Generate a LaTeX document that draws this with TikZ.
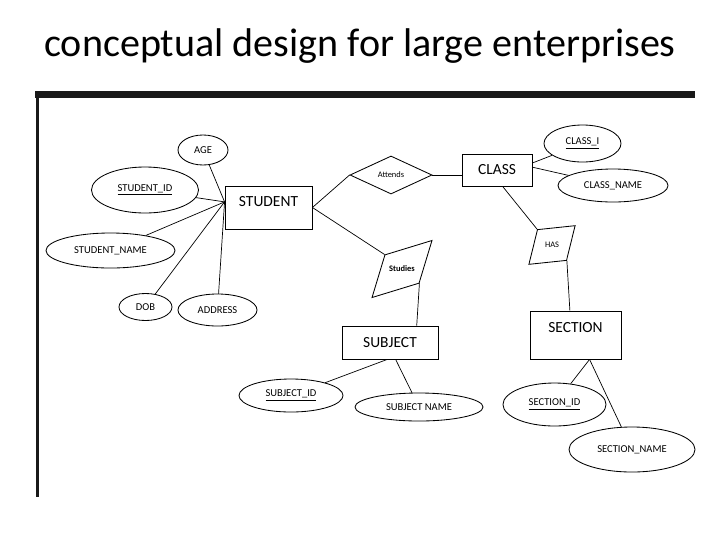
\documentclass[tikz,border=0pt]{standalone}
\usepackage{fontspec}
\setmainfont{Carlito}
\usepackage{tikz}
\usetikzlibrary{shapes.geometric, positioning, calc}

\begin{document}
\begin{tikzpicture}[
  x={(0.025cm,0)}, y={(0,-0.025cm)},
  line width=0.6pt,
  entity/.style={rectangle, draw, inner sep=0pt,
                 font=\fontsize{11}{13}\selectfont},
  attrib/.style={ellipse, draw, inner sep=0pt,
                 font=\fontsize{7.5}{9}\selectfont},
  relbox/.style={trapezium, draw, inner sep=1pt, trapezium stretches=true},
  reltext/.style={font=\fontsize{6}{7}\selectfont},
  link/.style={draw, line width=0.5pt},
  bar/.style={fill=black!90, draw=none},
]
\useasboundingbox (0,0) rectangle (720,540);

%% Title
\node[font=\fontsize{28.5}{32}\selectfont] (title) at (360,46)
      {conceptual design for large enterprises};

%% Frame bars
\path[bar] (35,90.5) rectangle (695,97.5);
\path[bar] (35.5,90.5) rectangle (38.5,497);

%% Entities
\node[entity, minimum width=2.175cm, minimum height=1.075cm, text depth=8pt]
      (student) at (268.5,207.5) {STUDENT};
\node[entity, minimum width=1.75cm, minimum height=0.8cm]
      (class) at (497,170) {CLASS};
\node[entity, minimum width=2.4cm, minimum height=0.825cm]
      (subject) at (390,342.5) {SUBJECT};
\node[entity, minimum width=2.275cm, minimum height=1.2cm, text depth=11pt]
      (section) at (575.5,335) {SECTION};

%% Student attributes
\node[attrib, minimum width=1.25cm, minimum height=0.75cm]
      (age) at (203,150) {AGE};
\node[attrib, minimum width=2.675cm, minimum height=1.15cm]
      (stid) at (145,190) {\underline{STUDENT\_ID}};
\node[attrib, minimum width=3.225cm, minimum height=0.875cm]
      (stname) at (110.5,250.5) {STUDENT\_NAME};
\node[attrib, minimum width=1.325cm, minimum height=0.675cm]
      (dob) at (145.5,307) {DOB};
\node[attrib, minimum width=1.975cm, minimum height=0.8cm]
      (address) at (217.5,310) {ADDRESS};

%% Class attributes
\node[attrib, minimum width=1.925cm, minimum height=0.925cm]
      (clid) at (582.5,143.5) {\underline{CLASS\_I}};
\node[attrib, minimum width=2.75cm, minimum height=0.825cm]
      (clname) at (613,185.5) {CLASS\_NAME};

%% Subject attributes
\node[attrib, minimum width=2.6cm, minimum height=0.825cm]
      (sbid) at (291,395.5) {\underline{SUBJECT\_ID}};
\node[attrib, minimum width=3.2cm, minimum height=0.7cm]
      (sbname) at (419,407) {SUBJECT NAME};

%% Section attributes
\node[attrib, minimum width=2.575cm, minimum height=1.075cm]
      (scid) at (554.5,404.5) {\underline{SECTION\_ID}};
\node[attrib, minimum width=3.15cm, minimum height=1.125cm]
      (scname) at (632,449.5) {SECTION\_NAME};

%% Relationships
\node[diamond, draw, inner sep=0pt, minimum width=2.05cm, minimum height=0.95cm,
      reltext] (attends) at (391,175) {Attends};
\node[relbox, minimum width=1.85cm, minimum height=0.925cm, rotate=17,
      trapezium left angle=49, trapezium right angle=131]
      (studies) at (402,269) {\phantom{X}};
\node[reltext, font=\fontsize{6}{7}\selectfont\bfseries] (studies-t) at (studies.center) {Studies};
\node[relbox, minimum width=1.25cm, minimum height=0.84cm, rotate=6,
      trapezium left angle=68, trapezium right angle=112]
      (has) at (552,245) {\phantom{X}};
\node[reltext] (has-t) at (has.center) {HAS};

%% Connectors
\coordinate (hub) at ([yshift=4pt]student.west);
\foreach \a in {age, stid, stname, dob, address}
  \draw[link] (\a) -- (hub);

\draw[link] (student.east) -- (attends.west);
\draw[link] (attends.east) -- (class.west |- attends.east);
\draw[link] (student.east) -- (studies.top left corner);
\draw[link] (studies.bottom right corner) -- ([xshift=19pt]subject.north);

\draw[link] ([yshift=5pt]class.east) -- (clid);
\draw[link] ([yshift=2pt]class.east) -- (clname);
\draw[link] ([xshift=4pt]class.south) -- (has.top left corner);
\draw[link] (has.bottom right corner) -- ([xshift=-4pt]section.north);

\draw[link] ([xshift=-2pt]subject.south) -- (sbid);
\draw[link] ([xshift=4pt]subject.south) -- (sbname);

\draw[link] ([xshift=10pt]section.south) -- (scid);
\draw[link] ([xshift=10pt]section.south) -- (scname);

\end{tikzpicture}
\end{document}
